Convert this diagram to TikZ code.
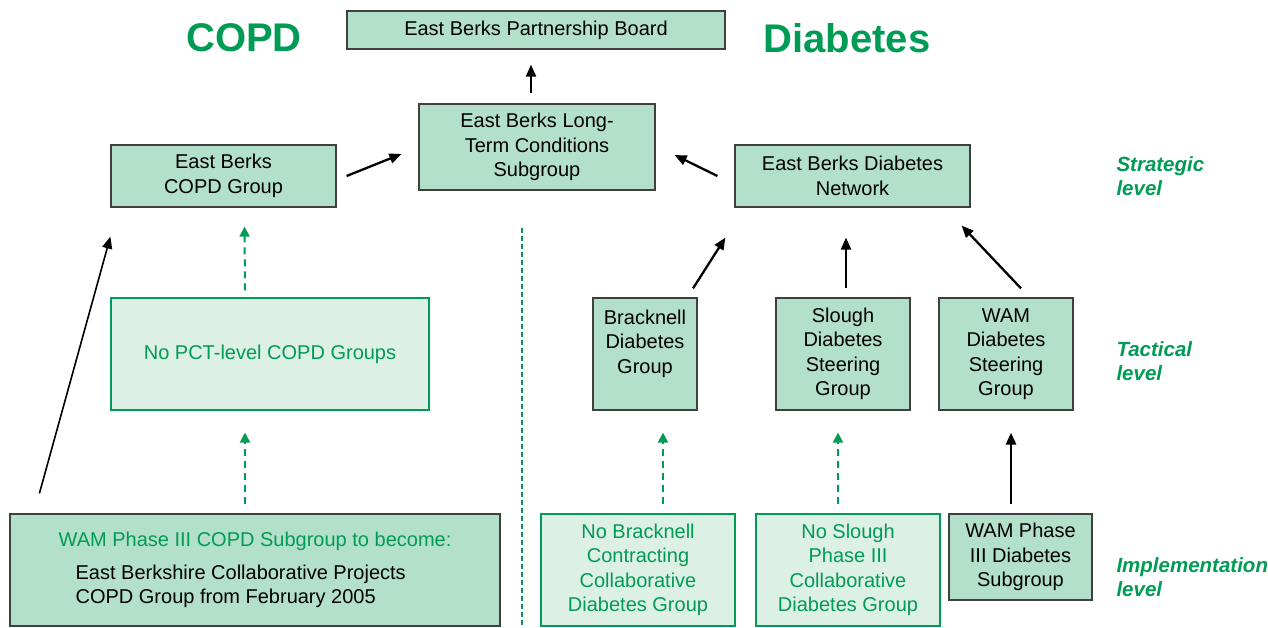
\documentclass[tikz,border=0pt]{standalone}
\usepackage{fontspec}
\setmainfont{Liberation Sans}
\usepackage{xcolor}
\usetikzlibrary{arrows.meta}

\definecolor{boxgreen}{RGB}{179,224,203}
\definecolor{palegreen}{RGB}{221,240,230}
\definecolor{textgreen}{RGB}{0,155,85}

\begin{document}
\begin{tikzpicture}[
    x=1pt, y=-1pt,
    font=\fontsize{20}{24.5}\selectfont,
    box1/.style={rectangle, draw=black!75, fill=boxgreen, line width=1.2pt, align=center, inner sep=0pt},
    box2/.style={rectangle, draw=textgreen, fill=palegreen, line width=1.2pt, align=center, inner sep=0pt, text=textgreen},
    head/.style={font=\fontsize{40}{40}\selectfont\bfseries, text=textgreen},
    lvl/.style={anchor=west, align=left, font=\fontsize{20.5}{23.5}\selectfont\bfseries\itshape, text=textgreen},
    arrow/.style={-{Triangle[length=12pt,width=10pt]}, line width=2.3pt, draw=black},
    darrow/.style={-{Triangle[length=10pt,width=10pt]}, line width=2pt, draw=textgreen, dash pattern=on 7pt off 5pt}
]
    \useasboundingbox (0,0) rectangle (1268,628);

    % headings
    \node [head] (copdhead) at (244,38) {COPD};
    \node [head] (diabhead) at (847,38) {Diabetes};

    % strategic level
    \node [box1, minimum width=378pt, minimum height=38pt] (board) at (536,30) {East Berks Partnership Board};
    \node [box1, minimum width=236pt, minimum height=86pt] (ltc) at (537,147) {East Berks Long-\\Term Conditions\\Subgroup};
    \node [box1, minimum width=225pt, minimum height=62pt] (copd) at (223.5,176) {East Berks\\COPD Group};
    \node [box1, minimum width=235pt, minimum height=62pt] (net) at (852.5,176) {East Berks Diabetes\\Network};

    % tactical level
    \node [box2, minimum width=318pt, minimum height=112pt] (pct) at (270,354) {No PCT-level COPD Groups};
    \node [box1, minimum width=104pt, minimum height=112pt] (brack) at (645,354) {Bracknell\\Diabetes\\Group\\\mbox{}};
    \node [box1, minimum width=134pt, minimum height=112pt] (slough) at (843,354) {Slough\\Diabetes\\Steering\\Group};
    \node [box1, minimum width=134pt, minimum height=112pt] (wamst) at (1006,354) {WAM\\Diabetes\\Steering\\Group};

    % implementation level
    \node [box1, minimum width=490pt, minimum height=112pt, align=left] (wamcopd) at (255,570)
        {{\color{textgreen}WAM Phase III COPD Subgroup to become:}\\[8pt]
         \hspace*{17pt}East Berkshire Collaborative Projects\\
         \hspace*{17pt}COPD Group from February 2005};
    \node [box2, minimum width=194pt, minimum height=112pt] (nobrack) at (638,570) {No Bracknell\\Contracting\\Collaborative\\Diabetes Group};
    \node [box2, minimum width=184pt, minimum height=112pt] (noslough) at (848,570) {No Slough\\Phase III\\Collaborative\\Diabetes Group};
    \node [box1, minimum width=143pt, minimum height=86pt] (wamph) at (1020.5,557) {WAM Phase\\III Diabetes\\Subgroup};

    % level labels
    \node [lvl] (strat) at (1113,176) {Strategic\\level};
    \node [lvl] (tact) at (1113,361) {Tactical\\level};
    \node [lvl] (impl) at (1113,577) {Implementation\\level};

    % divider
    \draw [textgreen, line width=1.5pt, dash pattern=on 5pt off 3pt] (522,228) -- (522,628);

    % connectors
    \draw [arrow] ([xshift=-6pt,yshift=10pt]ltc.north) -- ([xshift=-5pt,yshift=-15pt]board.south);
    \draw [arrow] ([xshift=10pt]copd.east) -- ([xshift=-17pt,yshift=-7pt]ltc.west);
    \draw [arrow] ([xshift=-17pt]net.west) -- ([xshift=19pt,yshift=-8pt]ltc.east);
    \draw [arrow, line width=1.6pt] ([xshift=30pt,yshift=20pt]wamcopd.north west) -- ([yshift=-29pt]copd.south west);
    \draw [darrow] ([xshift=-25pt,yshift=7pt]pct.north) -- ([xshift=21pt,yshift=-19pt]copd.south);
    \draw [darrow] ([xshift=-10pt,yshift=9pt]wamcopd.north) -- ([xshift=-25pt,yshift=-22pt]pct.south);
    \draw [arrow] ([xshift=48pt,yshift=9pt]brack.north) -- ([xshift=-9pt,yshift=-30pt]net.south west);
    \draw [arrow] ([xshift=3pt,yshift=9pt]slough.north) -- ([xshift=-6.5pt,yshift=-30pt]net.south);
    \draw [arrow] ([xshift=15pt,yshift=9pt]wamst.north) -- ([xshift=-9pt,yshift=-18pt]net.south east);
    \draw [darrow] ([xshift=25pt,yshift=9pt]nobrack.north) -- ([xshift=18pt,yshift=-22pt]brack.south);
    \draw [darrow] ([xshift=-10pt,yshift=9pt]noslough.north) -- ([xshift=-5pt,yshift=-22pt]slough.south);
    \draw [arrow, line width=2.8pt] ([xshift=-9.5pt,yshift=9pt]wamph.north) -- ([xshift=5pt,yshift=-22pt]wamst.south);
\end{tikzpicture}
\end{document}
